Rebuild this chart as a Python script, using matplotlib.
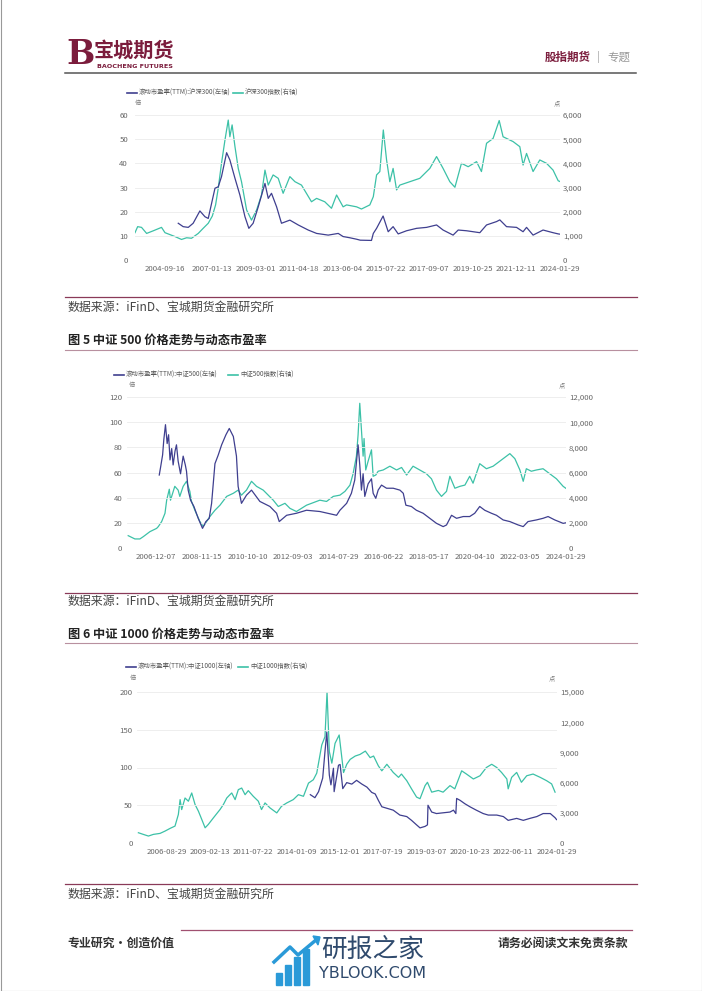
import datetime as dt
import numpy as np
import matplotlib
matplotlib.use("Agg")
import matplotlib.pyplot as plt
from matplotlib.lines import Line2D
from matplotlib.patches import Rectangle, Polygon
from matplotlib.ticker import FuncFormatter

plt.rcParams['font.family'] = ['Noto Sans CJK SC', 'DejaVu Sans']

W, H = 702, 991
NAVY = '#3f3f8f'
TEAL = '#3cc1a7'
GRID = '#ebebeb'
TICK = '#666666'

# ---------------- data: chart 1 (沪深300) ----------------
c1_ticks = ['2004-09-16', '2007-01-13', '2009-03-01', '2011-04-18', '2013-06-04',
            '2015-07-22', '2017-09-07', '2019-10-25', '2021-12-11', '2024-01-29']
c1_idx_t = [2003.26, 2003.39, 2003.58, 2003.83, 2004.16, 2004.56, 2004.73, 2005.22, 2005.54,
            2005.79, 2006.03, 2006.36, 2006.60, 2006.85, 2007.05, 2007.21, 2007.34, 2007.50,
            2007.67, 2007.83, 2007.91, 2008.02, 2008.16, 2008.32, 2008.48, 2008.73, 2008.89,
            2008.97, 2009.22, 2009.46, 2009.63, 2009.79, 2010.03, 2010.28, 2010.52, 2010.85,
            2011.10, 2011.42, 2011.91, 2012.16, 2012.56, 2012.89, 2013.14, 2013.46, 2013.63,
            2014.12, 2014.36, 2014.77, 2014.94, 2015.10, 2015.26, 2015.43, 2015.59, 2015.75,
            2015.91, 2016.08, 2016.24, 2016.73, 2017.22, 2017.71, 2018.04, 2018.36, 2018.69,
            2018.94, 2019.26, 2019.59, 2020.00, 2020.24, 2020.49, 2020.81, 2021.11, 2021.30,
            2021.79, 2022.12, 2022.28, 2022.45, 2022.77, 2023.10, 2023.43, 2023.75, 2024.00,
            2024.08]
c1_idx_v = [1130, 1380, 1350, 1100, 1210, 1350, 1130, 970, 850,
            920, 900, 1100, 1310, 1520, 1820, 2280, 2970, 4000,
            4970, 5790, 5100, 5590, 4690, 3790, 3240, 2070, 1790,
            1650, 2070, 2690, 3720, 3100, 3520, 3380, 2760, 3450,
            3240, 3100, 2410, 2550, 2410, 2140, 2690, 2200, 2280,
            2200, 2110, 2280, 2620, 3520, 3660, 5380, 4140, 3240,
            3790, 2900, 3100, 3240, 3380, 3790, 4280, 3790, 3240,
            3010, 4000, 3860, 4070, 3660, 4830, 5030, 5770, 5100,
            4900, 4690, 3930, 4410, 3660, 4140, 4000, 3720, 3280,
            3250]
c1_pe_t = [2005.38, 2005.62, 2005.87, 2006.11, 2006.44, 2006.69, 2006.85, 2007.05, 2007.18,
           2007.34, 2007.50, 2007.75, 2007.91, 2008.16, 2008.40, 2008.65, 2008.84, 2009.05,
           2009.30, 2009.63, 2009.79, 2009.95, 2010.20, 2010.44, 2010.85, 2011.26, 2011.75,
           2012.16, 2012.73, 2013.22, 2013.46, 2013.79, 2014.12, 2014.30, 2014.85, 2014.94,
           2015.10, 2015.42, 2015.67, 2015.91, 2016.16, 2016.57, 2017.06, 2017.55, 2018.04,
           2018.36, 2018.85, 2019.10, 2019.51, 2020.16, 2020.49, 2020.98, 2021.14, 2021.47,
           2021.96, 2022.28, 2022.45, 2022.77, 2023.26, 2023.75, 2024.00, 2024.08]
c1_pe_v = [15.2, 13.8, 13.5, 15.2, 20.3, 17.9, 17.2, 24.8, 29.7,
           30.3, 34.5, 44.4, 41.4, 33.8, 26.9, 17.9, 13.1, 15.2,
           22.0, 31.7, 25.5, 27.6, 22.0, 15.2, 16.5, 14.5, 12.4,
           11.0, 10.3, 11.0, 9.7, 9.2, 8.6, 8.2, 8.1, 11.0,
           13.1, 18.2, 11.7, 13.8, 10.8, 12.1, 13.1, 13.5, 14.5,
           12.4, 10.3, 12.4, 12.1, 11.3, 14.5, 15.9, 16.6, 13.8,
           13.5, 11.7, 13.5, 10.3, 12.4, 11.3, 10.8, 10.7]

# ---------------- data: chart 2 (中证500) ----------------
c2_ticks = ['2006-12-07', '2008-11-15', '2010-10-10', '2012-09-03', '2014-07-29',
            '2016-06-22', '2018-05-17', '2020-04-10', '2022-03-05', '2024-01-29']
c2_idx_t = [2005.77, 2006.05, 2006.26, 2006.40, 2006.68, 2006.96, 2007.03, 2007.17, 2007.31,
            2007.38, 2007.49, 2007.54, 2007.72, 2007.86, 2007.93, 2008.07, 2008.21, 2008.35,
            2008.42, 2008.56, 2008.77, 2008.91, 2009.05, 2009.19, 2009.40, 2009.61, 2009.89,
            2010.17, 2010.37, 2010.51, 2010.72, 2010.93, 2011.14, 2011.42, 2011.84, 2012.05,
            2012.33, 2012.54, 2012.81, 2013.23, 2013.79, 2014.07, 2014.35, 2014.63, 2014.84,
            2015.05, 2015.18, 2015.32, 2015.39, 2015.46, 2015.53, 2015.60, 2015.64, 2015.71,
            2015.81, 2015.95, 2016.02, 2016.13, 2016.23, 2016.44, 2016.72, 2017.00, 2017.21,
            2017.42, 2017.69, 2017.97, 2018.25, 2018.46, 2018.67, 2018.88, 2019.09, 2019.23,
            2019.44, 2019.65, 2019.86, 2020.06, 2020.20, 2020.48, 2020.76, 2021.04, 2021.32,
            2021.60, 2021.74, 2021.95, 2022.16, 2022.30, 2022.43, 2022.64, 2022.85, 2023.13,
            2023.41, 2023.69, 2023.97, 2024.08]
c2_idx_v = [980, 720, 720, 900, 1300, 1560, 1700, 2100, 2760,
            3800, 4670, 3800, 4900, 4600, 4100, 4900, 5300, 4500,
            3700, 3000, 2100, 1700, 2100, 2500, 3000, 3400, 4100,
            4350, 4600, 4200, 4600, 5300, 4900, 4600, 3800, 3300,
            3550, 3150, 2900, 3400, 3800, 3700, 4100, 4200, 4500,
            5000, 5900, 7300, 9000, 11500, 9400, 7300, 8700, 6200,
            6900, 7800, 5700, 5800, 6100, 6200, 6500, 6200, 6400,
            5800, 6500, 6200, 5900, 5500, 4600, 4100, 4500, 5700,
            4750, 4900, 5000, 5700, 5150, 6700, 6300, 6500, 6900,
            7300, 7500, 7100, 6200, 5300, 6300, 6100, 6200, 6300,
            5900, 5500, 4900, 4750]
c2_pe_t = [2007.07, 2007.13, 2007.21, 2007.26, 2007.33, 2007.40, 2007.46, 2007.52, 2007.59,
           2007.65, 2007.73, 2007.79, 2007.86, 2007.96, 2008.07, 2008.16, 2008.21, 2008.28,
           2008.38, 2008.52, 2008.70, 2008.88, 2009.02, 2009.16, 2009.26, 2009.40, 2009.54,
           2009.68, 2009.86, 2010.00, 2010.17, 2010.30, 2010.37, 2010.51, 2010.72, 2010.93,
           2011.28, 2011.70, 2011.98, 2012.09, 2012.40, 2012.81, 2013.23, 2013.79, 2014.49,
           2014.63, 2014.91, 2015.11, 2015.25, 2015.39, 2015.46, 2015.53, 2015.60, 2015.67,
           2015.81, 2015.95, 2016.02, 2016.13, 2016.23, 2016.37, 2016.58, 2016.86, 2017.14,
           2017.28, 2017.39, 2017.62, 2017.83, 2018.11, 2018.39, 2018.67, 2018.95, 2019.09,
           2019.30, 2019.51, 2019.79, 2020.06, 2020.27, 2020.48, 2020.69, 2020.97, 2021.18,
           2021.46, 2021.74, 2022.09, 2022.30, 2022.50, 2022.85, 2023.13, 2023.34, 2023.62,
           2023.97, 2024.08]
c2_pe_v = [58, 64.7, 74, 86, 98, 83, 90, 70, 79,
           66, 77, 82, 69, 59, 73, 66, 61, 46,
           38, 33, 23.6, 15.6, 21, 23.6, 35.5, 67, 74,
           82, 90, 95, 88.6, 73, 49, 35.5, 42, 46,
           37, 33, 27.6, 21, 26, 27.6, 30, 29, 26,
           30, 35.5, 43.5, 54, 82, 66, 46, 59, 41,
           51, 55, 43.5, 39.5, 46, 50, 47.5, 47.5, 46,
           43.5, 34, 33, 30, 27.6, 23.6, 19.6, 17, 18.3,
           26, 23.6, 25, 25, 27.6, 33, 30, 27.6, 26,
           22.3, 21, 18.3, 17, 21, 22.3, 23.6, 25, 22.3,
           19.6, 20]

# ---------------- data: chart 3 (中证1000) ----------------
c3_ticks = ['2006-08-29', '2009-02-13', '2011-07-22', '2014-01-09', '2015-12-01',
            '2017-07-19', '2019-03-07', '2020-10-23', '2022-06-11', '2024-01-29']
c3_idx_t = [2005.05, 2005.33, 2005.62, 2005.90, 2006.28, 2006.56, 2006.85, 2007.13, 2007.32,
            2007.42, 2007.51, 2007.70, 2007.89, 2008.08, 2008.27, 2008.46, 2008.65, 2008.84,
            2009.02, 2009.31, 2009.53, 2009.68, 2009.87, 2010.06, 2010.24, 2010.34, 2010.53,
            2010.71, 2010.90, 2011.09, 2011.27, 2011.55, 2011.84, 2012.02, 2012.22, 2012.50,
            2012.89, 2013.16, 2013.46, 2013.83, 2014.10, 2014.32, 2014.54, 2014.75, 2014.90,
            2015.12, 2015.26, 2015.35, 2015.45, 2015.56, 2015.70, 2015.88, 2016.05, 2016.17,
            2016.30, 2016.49, 2016.67, 2016.87, 2017.05, 2017.18, 2017.36, 2017.49, 2017.68,
            2017.92, 2018.12, 2018.23, 2018.43, 2018.61, 2018.80, 2018.93, 2019.12, 2019.21,
            2019.37, 2019.62, 2019.80, 2020.06, 2020.24, 2020.50, 2020.68, 2020.94, 2021.19,
            2021.43, 2021.63, 2021.82, 2022.00, 2022.20, 2022.25, 2022.38, 2022.57, 2022.75,
            2022.95, 2023.19, 2023.46, 2023.70, 2023.89, 2024.02]
c3_idx_v = [1020, 855, 690, 855, 954, 1180, 1450, 1680, 2830,
            4310, 3320, 4470, 4150, 4970, 3820, 3160, 2340, 1510,
            1840, 2500, 2990, 3320, 3820, 4470, 4800, 4970, 4310,
            5300, 5460, 4800, 5200, 4640, 4150, 3320, 3980, 3490,
            2990, 3650, 3980, 4310, 4800, 4640, 5950, 6280, 6940,
            9740, 10560, 15000, 9080, 7930, 9900, 10730, 7000, 7820,
            8310, 8640, 8800, 9130, 8480, 8640, 7660, 7170, 7820,
            7010, 6520, 6850, 6190, 5380, 4560, 4400, 5700, 6030,
            5050, 5220, 5050, 5700, 5380, 7170, 6850, 6360, 6680,
            7500, 7820, 7500, 7010, 6360, 5380, 6520, 7010, 6030,
            6680, 6850, 6520, 6190, 5870, 5050]
c3_pe_t = [2014.62, 2014.82, 2014.98, 2015.16, 2015.26, 2015.34, 2015.45, 2015.52, 2015.63,
           2015.66, 2015.85, 2015.92, 2016.02, 2016.17, 2016.36, 2016.54, 2016.74, 2016.93,
           2017.11, 2017.24, 2017.36, 2017.49, 2017.68, 2017.92, 2018.17, 2018.43, 2018.61,
           2018.80, 2018.93, 2019.12, 2019.21, 2019.23, 2019.37, 2019.55, 2019.80, 2020.06,
           2020.19, 2020.28, 2020.31, 2020.44, 2020.62, 2020.81, 2021.05, 2021.31, 2021.50,
           2021.82, 2022.07, 2022.25, 2022.57, 2022.82, 2023.07, 2023.33, 2023.57, 2023.84,
           2024.02, 2024.08]
c3_pe_v = [64, 60, 68, 86, 121, 147, 90, 77, 99,
           68, 103, 104, 72, 80, 78, 83, 78, 74,
           67, 65, 56.5, 48, 46, 43.5, 37, 35, 30,
           24, 20, 22, 24, 50, 41, 39, 40, 41,
           43.5, 39, 59, 56.5, 52, 48, 43.5, 39, 37,
           37, 35, 30, 32.6, 30, 32.6, 35, 39, 39,
           33.5, 31]


def dec_year(s):
    d = dt.date.fromisoformat(s)
    return d.year + (d - dt.date(d.year, 1, 1)).days / 365.25


def px_axes(l, r, t, b):
    return fig.add_axes([l / W, 1 - b / H, (r - l) / W, (b - t) / H])


def ftext(x, y, s, **kw):
    fig.text(x / W, 1 - y / H, s, **kw)


def fline(x0, x1, y0, y1, **kw):
    fig.add_artist(Line2D([x0 / W, x1 / W], [1 - y0 / H, 1 - y1 / H], **kw))


fig = plt.figure(figsize=(W / 100, H / 100), dpi=100)


def draw_chart(box, xmap, xlim, tick_dates, pe_t, pe_v, idx_t, idx_v,
               lmax, lstep, rmax, rstep, leg_y, leg_items, unit_l, unit_r, lpad):
    ax = px_axes(*box)
    ax2 = ax.twinx()
    ax.set_zorder(ax2.get_zorder() + 1)
    ax.patch.set_visible(False)
    ax2.plot(xmap(np.array(idx_t)), idx_v, color=TEAL, lw=0.9)
    ax.plot(xmap(np.array(pe_t)), pe_v, color=NAVY, lw=0.9)
    ax.set_ylim(0, lmax)
    ax2.set_ylim(0, rmax)
    ax.set_yticks(np.arange(0, lmax + 1, lstep))
    ax2.set_yticks(np.arange(0, rmax + 1, rstep))
    ax2.yaxis.set_major_formatter(FuncFormatter(lambda v, p: f'{int(v):,}'))
    ax.set_xlim(*xlim)
    ax.set_xticks(xmap(np.array([dec_year(d) for d in tick_dates])))
    ax.set_xticklabels(tick_dates)
    ax.grid(axis='y', color=GRID, lw=0.6)
    ax.set_axisbelow(True)
    for a in (ax, ax2):
        for s in a.spines.values():
            s.set_visible(False)
        a.tick_params(length=0, labelsize=5.6, colors=TICK)
    ax.tick_params(axis='y', pad=lpad)
    ax2.tick_params(axis='y', pad=2)
    ax.tick_params(axis='x', pad=3.5)
    # legend
    for x0, col, lab in leg_items:
        fline(x0, x0 + 10, leg_y, leg_y, color=col, lw=1.2)
        ftext(x0 + 12, leg_y, lab, fontsize=4.6, color='#555555', va='center', ha='left')
    ftext(unit_l[0], unit_l[1], '倍', fontsize=4.5, color='#777777', va='center', ha='center')
    ftext(unit_r[0], unit_r[1], '点', fontsize=4.5, color='#777777', va='center', ha='center')
    return ax


# chart 1: linear in time
draw_chart((135, 560, 115, 260), lambda t: t, (2003.26, 2024.09), c1_ticks,
           c1_pe_t, c1_pe_v, c1_idx_t, c1_idx_v, 60, 10, 6000, 1000, 93,
           [(127, NAVY, '滚动市盈率(TTM):沪深300(左轴)'), (233, TEAL, '沪深300指数(右轴)')],
           (138, 103), (557, 103), 5)

# chart 2: linear in time
draw_chart((127, 566, 397, 548), lambda t: t, (2005.72, 2024.09), c2_ticks,
           c2_pe_t, c2_pe_v, c2_idx_t, c2_idx_v, 120, 20, 12000, 2000, 375,
           [(114, NAVY, '滚动市盈率(TTM):中证500(左轴)'), (228, TEAL, '中证500指数(右轴)')],
           (132, 385), (562, 385), 3.5)

# chart 3: category-like axis, evenly spaced labels
t3 = np.array([dec_year(d) for d in c3_ticks])


def map3(t):
    t = np.asarray(t, dtype=float)
    k = np.interp(t, t3, np.arange(len(t3)))
    early = t < t3[0]
    k[early] = (t[early] - t3[0]) / (t3[1] - t3[0])
    return k


draw_chart((137, 557, 692, 843), map3, (-0.685, 9.01), c3_ticks,
           c3_pe_t, c3_pe_v, c3_idx_t, c3_idx_v, 200, 50, 15000, 3000, 667,
           [(126, NAVY, '滚动市盈率(TTM):中证1000(左轴)'), (238, TEAL, '中证1000指数(右轴)')],
           (133, 678), (552, 678), 3)

# ---------------- page decoration ----------------
MAROON = '#7b1c3c'
# logo
ftext(81, 55, 'B', fontsize=24, color=MAROON, fontweight='bold', ha='center', va='center',
      family=['DejaVu Serif'])
ftext(134, 50, '宝城期货', fontsize=14.5, color=MAROON, fontweight='bold', ha='center', va='center')
ftext(135, 66, 'BAOCHENG FUTURES', fontsize=4.6, color=MAROON, fontweight='bold', ha='center',
      va='center', family=['DejaVu Sans'])
ftext(545, 57, '股指期货', fontsize=8.3, color=MAROON, fontweight='bold', ha='left', va='center')
ftext(598, 57, '|', fontsize=8, color='#aaaaaa', ha='center', va='center')
ftext(607, 57, '专题', fontsize=8.3, color='#999999', ha='left', va='center')
fline(65, 636, 73, 73, color='#555555', lw=1.1)

# rules and captions
for y in (297, 593, 884):
    fline(65, 637, y, y, color='#8a3a58', lw=0.9)
for y in (350, 643):
    fline(65, 637, y, y, color='#b8909f', lw=0.8)
for y in (307, 601, 894):
    ftext(68, y, '数据来源：iFinD、宝城期货金融研究所', fontsize=8.6, color='#444444',
          ha='left', va='center')
ftext(68, 340, '图 5 中证 500 价格走势与动态市盈率', fontsize=8.8, fontweight='bold',
      color='#222222', ha='left', va='center')
ftext(68, 634, '图 6 中证 1000 价格走势与动态市盈率', fontsize=8.8, fontweight='bold',
      color='#222222', ha='left', va='center')

# footer
fline(181, 632, 930, 930, color='#a05070', lw=0.9)
ftext(67, 943, '专业研究·创造价值', fontsize=8.6, fontweight='bold', color='#333333',
      ha='left', va='center')
ftext(628, 943, '请务必阅读文末免责条款', fontsize=8.6, fontweight='bold', color='#333333',
      ha='right', va='center')
# watermark
BLUE = '#2a9ad8'
for x0, h in ((276, 12), (285, 20), (294, 28), (303, 36)):
    fig.add_artist(Rectangle((x0 / W, 1 - 985 / H), 6 / W, h / H, color=BLUE,
                             transform=fig.transFigure))
fig.add_artist(Line2D([274 / W, 290 / W, 298 / W, 316 / W],
                      [1 - 962 / H, 1 - 947 / H, 1 - 955 / H, 1 - 940 / H],
                      color=BLUE, lw=2.5, transform=fig.transFigure))
fig.add_artist(Polygon([(313 / W, 1 - 936 / H), (320 / W, 1 - 937 / H), (318 / W, 1 - 945 / H)],
                       closed=True, color=BLUE, transform=fig.transFigure))
ftext(373, 950, '研报之家', fontsize=18.5, color='#2f4a6d', ha='center', va='center')
ftext(373, 974, 'YBLOOK.COM', fontsize=11.5, color='#2f4a6d', ha='center', va='center',
      family=['DejaVu Sans'])

# page border
fline(0.5, 0.5, 0, 990.5, color='#999999', lw=0.8)
fline(701.5, 701.5, 0, 990.5, color='#999999', lw=0.8)
fline(0.5, 701.5, 990.5, 990.5, color='#999999', lw=0.8)

fig.savefig('out.png', dpi=100)
